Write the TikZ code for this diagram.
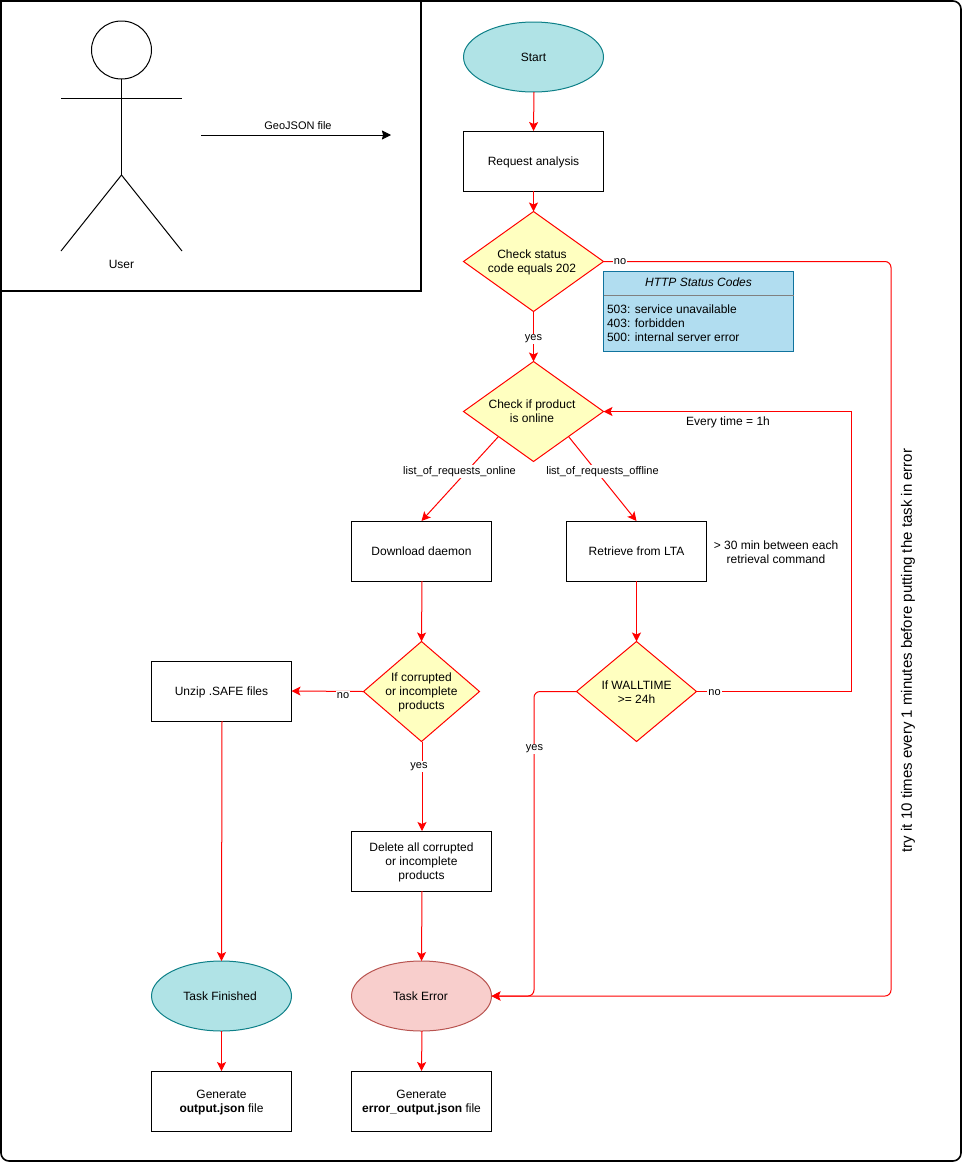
\documentclass[tikz,border=0pt]{standalone}
\usepackage{fontspec}
\setmainfont{Liberation Sans}
\usetikzlibrary{shapes.geometric,arrows.meta}
\definecolor{tealfill}{HTML}{B0E3E6}
\definecolor{tealline}{HTML}{0E8088}
\definecolor{pinkfill}{HTML}{F8CECC}
\definecolor{pinkline}{HTML}{B85450}
\definecolor{yellowfill}{HTML}{FFFFC0}
\definecolor{bluefill}{HTML}{B1DDF0}
\definecolor{blueline}{HTML}{10739E}
\newcommand{\txt}{\fontsize{12}{14}\selectfont}
\newcommand{\lbl}{\fontsize{11}{13}\selectfont}
\newcommand{\dn}[1]{\raisebox{-1.5pt}[\height][\depth]{\begin{tabular}{@{}c@{}}#1\end{tabular}}}
\setlength{\tabcolsep}{0pt}
\tikzset{
  every node/.style={inner sep=0pt,outer sep=0pt,text=black,font=\txt},
  procbox/.style={draw=black,fill=white,line width=1pt,minimum width=140pt,minimum height=60pt,align=center},
  termteal/.style={ellipse,draw=tealline,fill=tealfill,line width=1pt,minimum width=140pt,minimum height=70pt,align=center},
  termpink/.style={ellipse,draw=pinkline,fill=pinkfill,line width=1pt,minimum width=140pt,minimum height=70pt,align=center},
  decide/.style={diamond,draw=red,fill=yellowfill,line width=1pt},
  flow/.style={draw=red,line width=1pt,-{Stealth[length=9pt,width=9pt,inset=2pt]}},
  edgelbl/.style={font=\lbl,fill=white,inner sep=1pt,align=center},
  plain/.style={align=center},
}
\begin{document}
\begin{tikzpicture}[x=1pt,y=-1pt]
\useasboundingbox (0,0) rectangle (962,1162);
\fill[white] (0,0) rectangle (962,1162);
% frames
\draw[black,line width=1.6pt,rounded corners=8pt] (1,1) rectangle (961,1161);
\draw[black,line width=2pt,fill=white] (1,1) rectangle (421,291);
% actor
\draw[black,line width=1pt] (121.5,50) ellipse [x radius=30,y radius=29];
\draw[black,line width=1pt] (121.5,79) -- (121.5,175);
\draw[black,line width=1pt] (61,98) -- (182,98);
\draw[black,line width=1pt] (61,251) -- (121.5,175) -- (182,251);
\node[plain] (user) at (121.5,264.5) {User};
\coordinate (gjstart) at (201,135);
\coordinate (gjend) at (391,135);
\draw[black,line width=1pt,-{Stealth[length=9pt,width=9pt,inset=1pt]}] (gjstart) -- (gjend);
\node[font=\lbl] (gjlabel) at (298,126) {GeoJSON file};
% nodes
\node[termteal] (start) at (533.5,57) {Start};
\node[procbox] (req) at (533.5,161) {\dn{Request analysis}};
\node[decide,minimum width=140pt,minimum height=100pt,aspect=1.4,label={[plain,xshift=-1.5pt,yshift=-.7pt]center:Check status\\code equals 202}] (d1) at (533.5,261.5) {};
\node[decide,minimum width=140pt,minimum height=100pt,aspect=1.4,label={[plain,xshift=-1.5pt]center:Check if product\\is online}] (d2) at (533.5,411.5) {};
\node[procbox] (dl) at (421.5,551) {\dn{Download daemon}};
\node[procbox] (lta) at (636.5,551) {\dn{Retrieve from LTA}};
\node[decide,minimum width=116pt,minimum height=100pt,aspect=1.16,label={[plain,yshift=-.7pt]center:If corrupted\\or incomplete\\products}] (d3) at (421.5,691.5) {};
\node[decide,minimum width=120pt,minimum height=100pt,aspect=1.2,label={[plain,yshift=-.7pt]center:If WALLTIME\\>= 24h}] (d4) at (636.5,691.5) {};
\node[procbox] (unzip) at (221.5,691) {\dn{Unzip .SAFE files}};
\node[procbox] (del) at (421.5,861) {\dn{Delete all corrupted\\or incomplete\\products}};
\node[termteal] (fin) at (221.5,996) {\hspace*{-3pt}Task Finished};
\node[termpink] (err) at (421.5,996) {\hspace*{-2pt}Task Error};
\node[procbox] (gen1) at (221.5,1101) {\dn{Generate\\\textbf{output.json} file}};
\node[procbox] (gen2) at (421.5,1101) {\dn{Generate\\\textbf{error\_output.json} file}};
% status box
\node[draw=blueline,fill=bluefill,line width=1pt,minimum width=190pt,minimum height=80pt] (http) at (698.5,311) {};
\draw[draw=gray,line width=1pt] (603.5,295.5) -- (793.5,295.5);
\node[font=\txt\itshape] (httptitle) at (698.5,282) {HTTP Status Codes};
\node[anchor=west,align=left] (httptext) at (607,323) {503: service unavailable\\403: forbidden\\500: internal server error};
% free text
\node[plain] (every) at (728,422) {Every time = 1h};
\node[plain] (min30) at (776,552) {> 30 min between each\\retrieval command};
\node[font=\fontsize{15}{17}\selectfont,rotate=90] (tryit) at (908,650.5) {try it 10 times every 1 minutes before putting the task in error};
% connectors
\draw[flow] ([xshift=.5pt]start.south) -- (req.north);
\draw[flow] (req) -- (d1);
\draw[flow] (d1) -- (d2);
\node[edgelbl] (l1) at (533.5,339) {yes};
\draw[flow] (d2.south west) -- (dl.north);
\node[edgelbl] (l2) at (459.5,471.5) {list\_of\_requests\_online};
\draw[flow] (d2.south east) -- (lta.north);
\node[edgelbl] (l3) at (602.5,471.5) {list\_of\_requests\_offline};
\draw[flow] ([xshift=.5pt]dl.south) -- (d3.north);
\draw[flow] (lta) -- (d4);
\draw[flow] (d3.west) -- (unzip.east);
\node[edgelbl] (l4) at (343,695.5) {no};
\draw[flow] ([xshift=.5pt]d3.south) -- ([xshift=.5pt]del.north);
\node[edgelbl] (l5) at (419,766.5) {yes};
\draw[flow] ([xshift=.5pt]unzip.south) -- (fin.north);
\draw[flow] ([xshift=.5pt]del.south) -- (err.north);
\draw[flow] (fin) -- (gen1);
\draw[flow] ([xshift=.5pt]err.south) -- (gen2.north);
\coordinate (c1) at (891,261.5);
\coordinate (c2) at (891,996);
\draw[flow,rounded corners=6pt] (d1.east) -- (c1) -- (c2) -- (err.east);
\node[edgelbl] (l6) at (620,262) {no};
\coordinate (c3) at (851,691.5);
\coordinate (c4) at (851,411.5);
\draw[flow] (d4.east) -- (c3) -- (c4) -- (d2.east);
\node[edgelbl] (l7) at (714.5,693) {no};
\coordinate (c5) at (534,691.5);
\coordinate (c6) at (534,996);
\draw[flow,rounded corners=6pt] (d4.west) -- (c5) -- (c6) -- (err.east);
\node[edgelbl] (l8) at (534.5,749) {yes};
\end{tikzpicture}
\end{document}
